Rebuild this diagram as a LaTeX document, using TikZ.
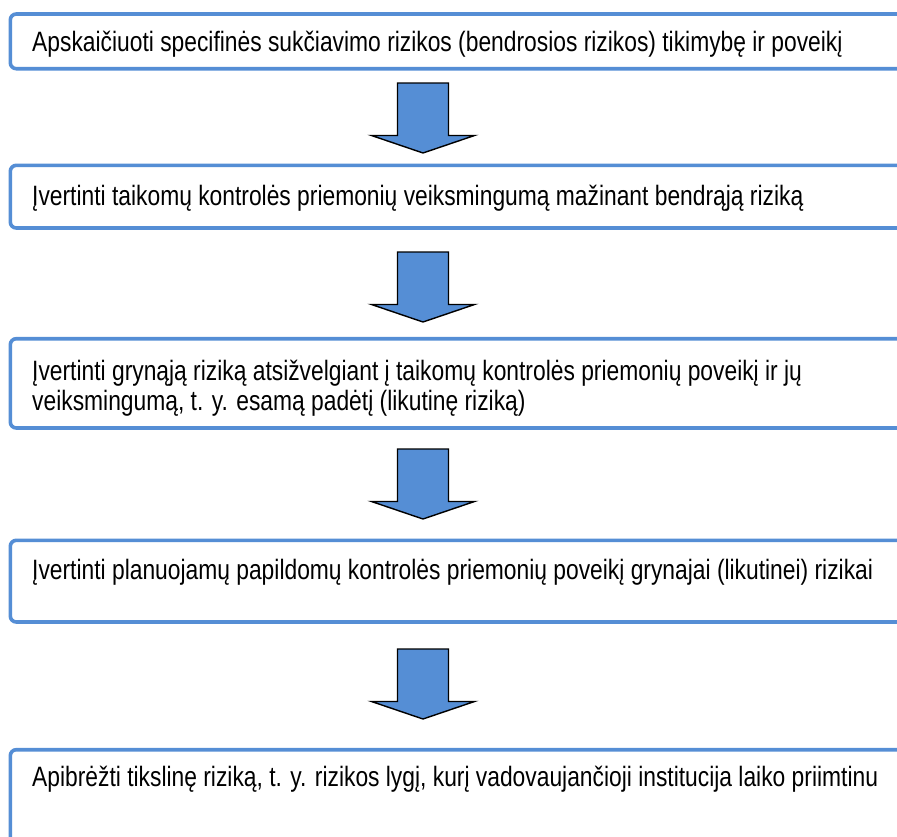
\documentclass[tikz,border=0pt]{standalone}
\usepackage{fontspec}
\setmainfont[FakeStretch=0.815]{Liberation Sans}
\definecolor{boxblue}{HTML}{558ED5}
\definecolor{arrowblue}{HTML}{558ED5}
\tikzset{
  stepbox/.style={draw=boxblue, line width=3.6pt, rounded corners=6pt, fill=white},
  txt/.style={inner sep=0pt, anchor=base west, font=\fontsize{28}{30}\selectfont, align=left},
  blockarrow/.pic={
    \draw[black, line width=1.4pt, fill=arrowblue, line join=miter]
      (-25.5,0) -- (25.5,0) -- (25.5,52.5) -- (51.5,52.5) -- (0,70)
      -- (-51.5,52.5) -- (-25.5,52.5) -- cycle;
  }
}
\begin{document}
\begin{tikzpicture}[x=1pt,y=-1pt]
\useasboundingbox (0,0) rectangle (897,836);
% boxes
\draw[stepbox] (10.3,14) rectangle (920,68.7);
\draw[stepbox] (10.3,165.3) rectangle (920,228);
\draw[stepbox] (10.3,338.7) rectangle (920,428);
\draw[stepbox] (10.3,540.3) rectangle (920,622);
\draw[stepbox] (10.3,749.7) rectangle (920,880);
% texts
\node[txt] (t1) at (32,51.7) {Apskaičiuoti specifinės sukčiavimo rizikos (bendrosios rizikos) tikimybę ir poveikį};
\node[txt] (t2) at (32,205) {Įvertinti taikomų kontrolės priemonių veiksmingumą mažinant bendrąją riziką};
\node[txt] (t3) at (32,410.5) {Įvertinti grynąją riziką atsižvelgiant į taikomų kontrolės priemonių poveikį ir jų\\veiksmingumą, t. y. esamą padėtį (likutinę riziką)};
\node[txt] (t4) at (32,579) {Įvertinti planuojamų papildomų kontrolės priemonių poveikį grynajai (likutinei) rizikai};
\node[txt] (t5) at (32,786.7) {Apibrėžti tikslinę riziką, t. y. rizikos lygį, kurį vadovaujančioji institucija laiko priimtinu};
% arrows
\coordinate (a1) at (423,83);
\coordinate (a2) at (423,252);
\coordinate (a3) at (423,449);
\coordinate (a4) at (423,649);
\pic at (a1) {blockarrow};
\pic at (a2) {blockarrow};
\pic at (a3) {blockarrow};
\pic at (a4) {blockarrow};
\end{tikzpicture}
\end{document}
